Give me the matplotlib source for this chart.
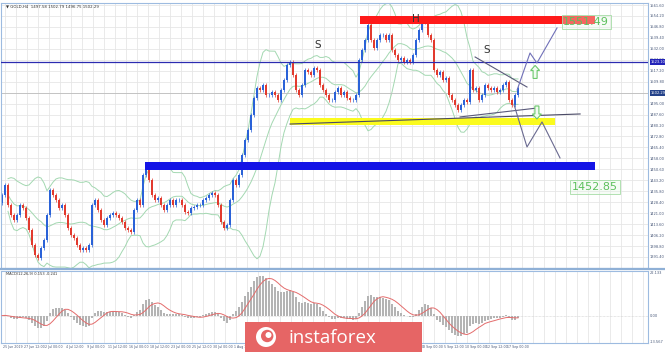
import matplotlib
matplotlib.use("Agg")
import matplotlib.pyplot as plt
import numpy as np
import pandas as pd
from matplotlib.patches import Rectangle, Circle, Polygon

# ---------------- data ----------------
closes = [
    1433.3, 1440.0, 1426.5, 1419.7, 1416.4, 1419.7, 1426.5, 1424.5, 1417.7, 1409.6,
    1399.5, 1392.7, 1390.7, 1397.5, 1402.9, 1419.7, 1436.6, 1433.3, 1429.9, 1424.5,
    1426.5, 1419.7, 1411.0, 1406.2, 1404.2, 1399.5, 1396.1, 1397.5, 1396.1, 1399.5,
    1426.5, 1429.9, 1423.1, 1416.4, 1413.0, 1417.7, 1419.7, 1421.1, 1419.7, 1417.7,
    1415.0, 1411.0, 1409.6, 1408.3, 1423.1, 1429.9, 1426.5, 1446.8, 1450.1, 1443.4,
    1433.3, 1429.9, 1431.2, 1426.5, 1423.1, 1426.5, 1429.9, 1426.5, 1429.9, 1429.9,
    1426.5, 1421.8, 1421.1, 1424.5, 1425.2, 1426.5, 1426.5, 1429.9, 1431.2, 1433.3,
    1434.6, 1433.3, 1426.5, 1415.0, 1411.0, 1413.0, 1429.9, 1443.4, 1440.0, 1446.8,
    1460.3, 1470.4, 1477.2, 1487.3, 1498.8, 1505.5, 1504.2, 1507.6, 1500.8, 1500.8,
    1502.8, 1500.8, 1497.4, 1504.2, 1511.0, 1521.1, 1523.1, 1514.3, 1504.2, 1500.8,
    1507.6, 1517.7, 1516.4, 1514.3, 1519.1, 1517.7, 1507.6, 1504.2, 1500.8, 1497.4,
    1497.4, 1502.8, 1505.5, 1500.8, 1502.8, 1498.8, 1497.4, 1497.4, 1500.8, 1524.5,
    1531.2, 1538.0, 1548.1, 1538.0, 1532.6, 1538.0, 1541.4, 1541.4, 1538.0, 1541.4,
    1531.2, 1527.8, 1524.5, 1525.8, 1523.1, 1524.5, 1523.1, 1527.8, 1538.0, 1544.7,
    1550.1, 1551.5, 1541.4, 1538.0, 1517.7, 1514.3, 1516.4, 1511.0, 1512.3, 1500.8,
    1497.4, 1494.1, 1490.7, 1494.1, 1497.4, 1496.1, 1517.7, 1504.2, 1505.5, 1497.4,
    1500.8, 1507.6, 1505.5, 1504.2, 1505.5, 1502.8, 1504.2, 1507.6, 1509.6, 1497.4,
    1494.1, 1500.8, 1505.5,
]
first_open = 1428.0

price_ticks = [1561.60, 1554.20, 1546.80, 1539.40, 1532.00, 1524.60, 1517.20,
               1509.80, 1502.40, 1495.00, 1487.60, 1480.20, 1472.80, 1465.40,
               1458.00, 1450.60, 1443.20, 1435.80, 1428.40, 1421.00, 1413.60,
               1406.20, 1398.80, 1391.40]

date_labels = ["25 Jun 2019", "27 Jun 12:00", "2 Jul 00:00", "4 Jul 12:00",
               "9 Jul 00:00", "11 Jul 12:00", "16 Jul 00:00", "18 Jul 12:00",
               "23 Jul 00:00", "25 Jul 12:00", "30 Jul 00:00", "1 Aug 12:00",
               "6 Aug 00:00", "8 Aug 12:00", "13 Aug 00:00", "15 Aug 12:00",
               "20 Aug 00:00", "22 Aug 12:00", "27 Aug 00:00", "29 Aug 12:00",
               "3 Sep 00:00", "5 Sep 12:00", "10 Sep 00:00", "12 Sep 12:00",
               "17 Sep 00:00"]

level_resist = 1551.49
level_support = 1452.85
level_neck = 1483.0
level_hline = 1523.10
last_price = 1502.29

header = "\u25bc GOLD,H4  1497.58 1502.79 1496.75 1502.29"
macd_header = "MACD(12,26,9) 0.153 -0.241"

# ---------------- figure ----------------
W, H = 665, 352
fig = plt.figure(figsize=(W / 100, H / 100), dpi=100)
fig.patch.set_facecolor("white")

ax = fig.add_axes([1 / W, (H - 268) / H, 647 / W, 265 / H])
ax2 = fig.add_axes([1 / W, (H - 343) / H, 647 / W, 72 / H])

n = len(closes)
x = np.arange(n)
c = np.array(closes)
o = np.concatenate([[first_open], c[:-1]])
up = c >= o
XL = (-0.33, 215.33)
YL = (1383.94, 1562.97)

for a in (ax, ax2):
    a.set_xlim(*XL)
    a.set_facecolor("white")
    for s_ in a.spines.values():
        s_.set_color("#9dbbe0")
        s_.set_linewidth(0.8)
    a.tick_params(axis="both", length=0, labelsize=2.6, colors="#4a5a7a", pad=1.5)
gx = np.arange(1.0, 216, 11 / 3)
for a in (ax, ax2):
    for g in gx:
        a.axvline(g, color="#e6e6e6", lw=0.6, zorder=0)

ax.set_ylim(*YL)
for p in price_ticks:
    ax.axhline(p, color="#e6e6e6", lw=0.6, zorder=0)
ax.yaxis.tick_right()
ax.set_yticks(price_ticks)
ax.set_yticklabels([f"{p:.2f}" for p in price_ticks])
ax.set_xticks([])

# Bollinger bands
s = pd.Series(c)
mid = s.rolling(14, min_periods=3).mean()
sd = s.rolling(14, min_periods=3).std(ddof=0)
for band in (mid, mid + 2 * sd, mid - 2 * sd):
    ax.plot(x, band, color="#a3d8b1", lw=0.7, zorder=1)

# candles
col = np.where(up, "#2a62d8", "#e23a2e")
ax.vlines(x, np.minimum(o, c) - 1.3, np.maximum(o, c) + 1.3, colors=col, lw=0.5, zorder=2)
ax.bar(x, np.abs(c - o) + 0.4, bottom=np.minimum(o, c) - 0.2, width=0.7, color=col,
       zorder=2, linewidth=0)

# horizontal lines
ax.axhline(level_hline, color="#2b2bb0", lw=0.9, zorder=3)
ax.axhline(last_price, color="#bdbdbd", lw=0.6, zorder=1)

# zones
ax.add_patch(Rectangle((119.3, level_resist - 2.7), 78.4, 5.4, color="#ff1a1a", zorder=4, lw=0))
ax.add_patch(Rectangle((47.7, level_support - 2.7), 150.0, 5.4, color="#1414e6", zorder=4, lw=0))
ax.add_patch(Rectangle((96.0, level_neck - 2.4), 88.3, 4.8, color="#fbfb1e", zorder=4, lw=0))

# trendlines
ax.plot([96.0, 192.7], [1481.2, 1488.0], color="#4a4a66", lw=0.8, zorder=5)
ax.plot([157.7, 175.0], [1526.5, 1506.2], color="#5a5a7a", lw=0.8, zorder=5)
ax.plot([152.7, 178.3], [1486.0, 1492.0], color="#5a5a7a", lw=0.8, zorder=5)
ax.plot([171.7, 176.0, 178.3, 185.0], [1504.2, 1529.2, 1522.4, 1546.1],
        color="#7070b8", lw=0.8, zorder=5)
ax.plot([170.7, 175.0, 180.0, 186.0], [1494.1, 1465.7, 1482.6, 1458.3],
        color="#6a6a90", lw=0.8, zorder=5)

# texts on chart
ax.text(105.3, 1534.6, "S", fontsize=7.5, color="#333333", ha="center", va="center", zorder=6)
ax.text(138.0, 1552.2, "H", fontsize=7.5, color="#333333", ha="center", va="center", zorder=6)
ax.text(161.7, 1531.2, "S", fontsize=7.5, color="#333333", ha="center", va="center", zorder=6)
box = dict(boxstyle="square,pad=0.15", fc=(0.9, 0.97, 0.9, 0.35), ec="#a6dca6", lw=0.6)
ax.text(194.7, 1550.1, f"{level_resist:.2f}", fontsize=8, color="#5cc05c", ha="center",
        va="center", bbox=box, zorder=6)
ax.text(197.7, 1438.7, f"{level_support:.2f}", fontsize=8, color="#5cc05c", ha="center",
        va="center", bbox=box, zorder=6)


# hollow green arrows (drawn in pixel units around a data point)
def arrow(ix, price, direction):
    fx = (ix - XL[0]) / (XL[1] - XL[0])
    fy = (price - YL[0]) / (YL[1] - YL[0])
    sx, sy = 1 / 647, 1 / 265
    pts = [(0, 6.5), (4.5, 1.5), (2, 1.5), (2, -6.5), (-2, -6.5), (-2, 1.5), (-4.5, 1.5)]
    pts = [(fx + px * sx, fy + direction * py * sy) for px, py in pts]
    ax.add_patch(Polygon(pts, closed=True, transform=ax.transAxes, fc="#f2fbf2",
                         ec="#6cc96c", lw=0.8, zorder=6))


arrow(177.7, 1516.4, 1)
arrow(178.3, 1489.0, -1)

# right-axis highlighted labels
for val, fc in ((level_hline, "#2323b8"), (last_price, "#24428a")):
    ax.text(1.004, val, f"{val:.2f}", transform=ax.get_yaxis_transform(), fontsize=2.6,
            color="white", va="center", ha="left",
            bbox=dict(boxstyle="square,pad=0.25", fc=fc, ec="none"), clip_on=False, zorder=7)

ax.text(0.008, 0.993, header, transform=ax.transAxes, fontsize=2.8, color="#333333",
        va="top", ha="left")

# ---------------- MACD panel ----------------
fast = s.ewm(span=7, adjust=True).mean()
slow = s.ewm(span=15, adjust=True).mean()
macd = fast - slow
signal = macd.rolling(6, min_periods=1).mean()
top = float(macd.max()) * 1.12
ax2.set_ylim(-0.613 * top, top)
ax2.bar(x, macd, width=0.55, color="#b4b4b4", linewidth=0, zorder=2)
ax2.plot(x, signal, color="#e46c6c", lw=0.7, zorder=3)
ax2.axhline(0, color="#cfcfcf", lw=0.5, ls=(0, (1, 1)), zorder=1)
ax2.yaxis.tick_right()
ax2.set_yticks([top * 0.97, 0, -0.59 * top])
ax2.set_yticklabels([f"{top:.3f}", "0.00", f"{-0.613 * top:.3f}"])
dpos = 0.33 + np.arange(len(date_labels)) * (21 / 3)
ax2.set_xticks(dpos)
ax2.set_xticklabels(date_labels, fontsize=2.3, color="#4a5a7a", ha="left")
ax2.tick_params(axis="x", pad=1.2)
ax2.text(0.008, 0.985, macd_header, transform=ax2.transAxes, fontsize=2.6, color="#333333",
         va="top", ha="left")

# separator line between panels
fig.add_artist(plt.Line2D([0, 1], [(H - 269) / H] * 2, color="#8fb0d6", lw=1.6))

# ---------------- logo ----------------
fig.add_artist(Rectangle((245 / W, 0), 177 / W, 30 / H, transform=fig.transFigure,
                         color="#e66565", lw=0, zorder=10))
lax = fig.add_axes([253 / W, 3 / H, 26 / W, 24 / H], zorder=11)
lax.set_xlim(-1.2, 1.2); lax.set_ylim(-1.2, 1.2); lax.set_aspect("equal"); lax.axis("off")
lax.add_patch(Circle((0, 0), 1.0, color="white", lw=0))
lax.add_patch(Circle((0.12, 0.1), 0.62, color="#e66565", lw=0))
lax.add_patch(Circle((0.25, 0.2), 0.3, color="white", lw=0))
fig.text(332 / W, 14 / H, "instaforex", fontsize=13.5, color="white", family="Open Sans",
         ha="center", va="center", zorder=12)

fig.savefig("out.png", dpi=100, facecolor="white")
